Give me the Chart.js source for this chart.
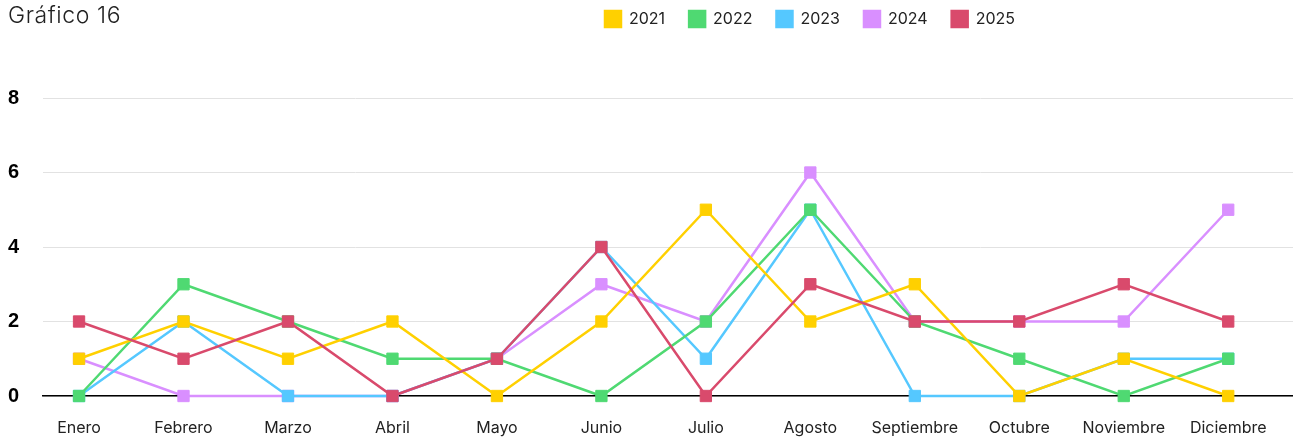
<!DOCTYPE html>
<html>
<head>
<meta charset="utf-8">
<script src="https://cdn.jsdelivr.net/npm/chart.js@4"></script>
<style>
  html, body { margin: 0; padding: 0; background: #fff; }
  #wrap { position: relative; width: 1293px; height: 439px; }
  #title {
    position: absolute; left: 8px; top: 1px;
    font: 300 23px 'Inter', sans-serif; color: #222; letter-spacing: 0.6px;
  }
</style>
</head>
<body>
<div id="wrap">
  <div id="title">Gráfico 16</div>
  <canvas id="chart"></canvas>
</div>
<script>
const months = ['Enero', 'Febrero', 'Marzo', 'Abril', 'Mayo', 'Junio', 'Julio',
  'Agosto', 'Septiembre', 'Octubre', 'Noviembre', 'Diciembre'];
const years = ['2021', '2022', '2023', '2024', '2025'];
const v2021 = [1, 2, 1, 2, 0, 2, 5, 2, 3, 0, 1, 0];
const v2022 = [0, 3, 2, 1, 1, 0, 2, 5, 2, 1, 0, 1];
const v2023 = [0, 2, 0, 0, 1, 4, 1, 5, 0, 0, 1, 1];
const v2024 = [1, 0, 0, 0, 1, 3, 2, 6, 2, 2, 2, 5];
const v2025 = [2, 1, 2, 0, 1, 4, 0, 3, 2, 2, 3, 2];
const yTicks = [0, 2, 4, 6, 8];

const series = [v2021, v2022, v2023, v2024, v2025];
const colors = ['#ffd000', '#4fd972', '#55c8ff', '#d98fff', '#d94a6c'];
const drawOrder = [1, 2, 3, 4, 0];   // 2025 on top, 2024 at the bottom

const FONT = "'Inter', sans-serif";

// move the legend to the right, same row as the title
const legendShift = {
  id: 'legendShift',
  afterLayout(chart) {
    const lg = chart.legend;
    const dx = 810 - (lg.left + lg.right) / 2;
    const dy = -lg.top - 24 + 11;
    lg.left += dx; lg.right += dx;
    lg.top += dy; lg.bottom += dy;
  }
};

new Chart(document.getElementById('chart'), {
  type: 'line',
  data: {
    datasets: series.map((vals, i) => ({
      label: years[i],
      data: vals.map((v, k) => ({ x: k, y: v })),
      borderColor: colors[i],
      backgroundColor: colors[i],
      borderWidth: 2.5,
      pointStyle: 'rect',
      pointRadius: 8,
      pointBorderWidth: 1,
      pointBackgroundColor: colors[i],
      tension: 0,
      clip: false,
      order: drawOrder[i]
    }))
  },
  options: {
    responsive: true,
    maintainAspectRatio: false,
    animation: false,
    layout: { autoPadding: false, padding: { left: 7, right: 0, top: 48, bottom: 0 } },
    plugins: {
      tooltip: { enabled: false },
      legend: {
        position: 'top',
        labels: {
          boxWidth: 16,
          boxHeight: 16,
          padding: 24,
          color: '#222',
          font: { family: FONT, size: 16 },
          sort: (a, b) => a.datasetIndex - b.datasetIndex
        }
      }
    },
    scales: {
      x: {
        type: 'linear',
        min: -0.345,
        max: 11.62,
        afterFit: s => { s.height = 43; },
        grid: { display: false, drawTicks: false },
        border: { display: true, color: '#000', width: 1.5 },
        ticks: {
          stepSize: 1,
          maxTicksLimit: 20,
          includeBounds: false,
          autoSkip: false,
          maxRotation: 0,
          padding: 23,
          color: '#222',
          font: { family: FONT, size: 16 },
          callback: v => Number.isInteger(v) ? months[v] : ''
        }
      },
      y: {
        min: yTicks[0],
        max: yTicks[yTicks.length - 1],
        afterFit: s => { s.width = 36; },
        afterBuildTicks: s => { s.ticks = yTicks.map(v => ({ value: v })); },
        grid: { color: '#e2e2e2', drawTicks: false },
        border: { display: false },
        ticks: {
          padding: 24,
          color: '#000',
          font: { family: "'Liberation Sans', Arial, sans-serif", size: 20, weight: 'bold' }
        }
      }
    }
  },
  plugins: [legendShift]
});
</script>
</body>
</html>
